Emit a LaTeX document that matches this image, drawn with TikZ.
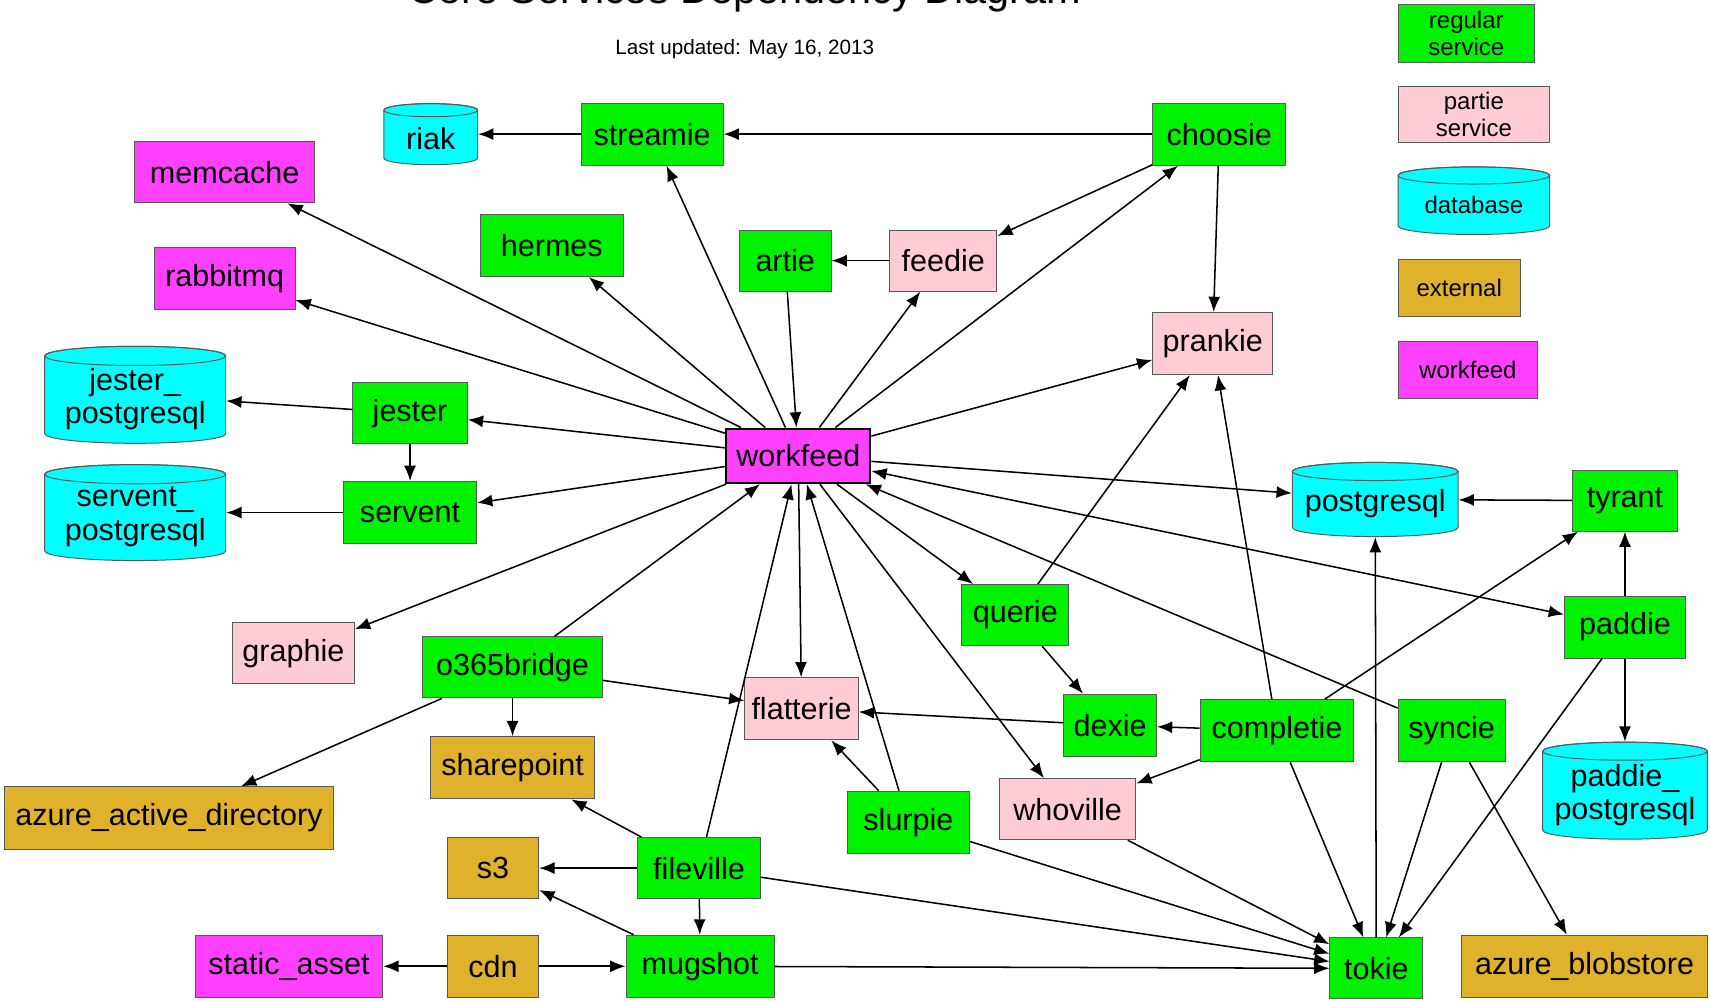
\documentclass[tikz,border=0pt]{standalone}
\usepackage{fontspec}
\setmainfont{Liberation Sans}
\usetikzlibrary{arrows.meta}
\definecolor{svcgreen}{RGB}{0,242,0}
\definecolor{partiepink}{RGB}{255,204,213}
\definecolor{dbcyan}{RGB}{0,255,255}
\definecolor{extgold}{RGB}{224,177,43}
\definecolor{wfmagenta}{RGB}{255,64,255}
% drum outline for a data store: centre x, centre y, width, height (picture units)
\newcommand\drawstore[4]{%
  \pgfmathsetmacro\stcap{3+0.035*#3}%
  \pgfmathsetmacro\strx{#3*0.25}%
  \pgfmathsetmacro\stry{\stcap*0.5}%
  \path[fill=dbcyan, draw=black!65, line width=0.45pt]
    (#1-#3/2, #2-#4/2+\stcap) -- (#1-#3/2, #2+#4/2-\stcap)
    arc[start angle=180, end angle=360, x radius=\strx pt, y radius=\stry pt]
    -- (#1+#3/2, #2-#4/2+\stcap)
    arc[start angle=0, end angle=180, x radius=\strx pt, y radius=\stry pt]
    -- cycle;
  \draw[draw=black!65, line width=0.45pt] (#1, #2-#4/2+\stcap)
    ellipse[x radius=\strx pt, y radius=\stry pt];
}
\begin{document}
\begin{tikzpicture}[x=0.5pt,y=-0.5pt,
  box/.style={draw=black!65, line width=0.45pt, inner sep=0pt, align=center,
              font=\fontsize{14}{15.5}\selectfont},
  wh/.style 2 args={minimum width=#1*0.5pt, minimum height=#2*0.5pt},
  svc/.style={box, fill=svcgreen},
  partie/.style={box, fill=partiepink},
  ext/.style={box, fill=extgold},
  wf/.style={box, fill=wfmagenta},
  dbtext/.style={inner sep=0pt, align=center, yshift=-2pt, font=\fontsize{14}{15.5}\selectfont},
  db/.style={box, draw=none, fill=none, label={[dbtext]center:#1}},
  legend/.style={font=\fontsize{11}{12.5}\selectfont},
  dep/.style={-{Latex[length=7pt,width=5.5pt]}, line width=0.7pt},
  both/.style={{Latex[length=7pt,width=5.5pt]}-{Latex[length=7pt,width=5.5pt]}, line width=0.7pt},
]
\useasboundingbox (0,0) rectangle (1568,918);

% heading
\node[anchor=base, font=\fontsize{19}{22}\selectfont] (title) at (683,3) {Core Services Dependency Diagram};
\node[font=\fontsize{9.5}{11}\selectfont] (updated) at (683,45) {Last updated: May 16, 2013};

% data store drums
\drawstore{1351.5}{184}{139}{62}
\drawstore{395}{123}{86}{56}
\drawstore{124}{362}{166}{89}
\drawstore{124}{470}{166}{88}
\drawstore{1261}{458}{152}{68}
\drawstore{1490}{725}{151}{89}

% key
\node[svc, legend, wh={125}{53}] (keysvc) at (1344.5,30.5) {regular\\service};
\node[partie, legend, wh={139}{52}] (keypartie) at (1351.5,105) {partie\\service};
\node[box, draw=none, fill=none, legend, wh={139}{62}] (keydb) at (1351.5,188) {database};
\node[ext, legend, wh={112}{52}] (keyext) at (1338,264) {external};
\node[wf, legend, wh={128}{52}] (keywf) at (1346,339) {workfeed};

% services and stores
\node[db={riak}, wh={86}{56}] (riak) at (395,123) {};
\node[svc, wh={130}{57}] (streamie) at (598,123) {streamie};
\node[svc, wh={122}{57}] (choosie) at (1118,123) {choosie};
\node[wf, wh={165}{56}] (memcache) at (206,158) {memcache};
\node[svc, wh={131}{57}] (hermes) at (506,225) {hermes};
\node[svc, wh={84}{56}] (artie) at (720,239) {artie};
\node[partie, wh={98}{56}] (feedie) at (865,239) {feedie};
\node[wf, wh={129}{57}] (rabbitmq) at (206,255) {rabbitmq};
\node[partie, wh={110}{57}] (prankie) at (1112,315) {prankie};
\node[db={jester\_\\postgresql}, wh={166}{89}] (jesterpg) at (124,362) {};
\node[svc, wh={105}{56}] (jester) at (376,379) {jester};
\node[wf, wh={132}{50}, draw=black, line width=1pt] (workfeed) at (732,418) {workfeed};
\node[db={servent\_\\postgresql}, wh={166}{88}] (serventpg) at (124,470) {};
\node[svc, wh={122}{57}] (servent) at (376,470) {servent};
\node[db={postgresql}, wh={152}{68}] (postgresql) at (1261,458) {};
\node[svc, wh={96}{56}] (tyrant) at (1490,459) {tyrant};
\node[svc, wh={98}{56}] (querie) at (931,564) {querie};
\node[svc, wh={111}{57}] (paddie) at (1490,575) {paddie};
\node[partie, wh={112}{56}] (graphie) at (269,599) {graphie};
\node[svc, wh={165}{56}] (o365bridge) at (470,612) {o365bridge};
\node[partie, wh={104}{57}] (flatterie) at (735,650) {flatterie};
\node[svc, wh={85}{57}] (dexie) at (1018,665) {dexie};
\node[svc, wh={141}{57}] (completie) at (1171,670) {completie};
\node[svc, wh={98}{57}] (syncie) at (1331,670) {syncie};
\node[ext, wh={151}{57}] (sharepoint) at (470,704) {sharepoint};
\node[db={paddie\_\\postgresql}, wh={151}{89}] (paddiepg) at (1490,725) {};
\node[ext, wh={302}{57}] (aad) at (155,750) {azure\_active\_directory};
\node[partie, wh={125}{56}] (whoville) at (979,742) {whoville};
\node[svc, wh={112}{57}] (slurpie) at (833,754) {slurpie};
\node[ext, wh={84}{56}] (s3) at (452,796) {s3};
\node[svc, wh={113}{56}] (fileville) at (641,796) {fileville};
\node[wf, wh={172}{57}] (staticasset) at (265,886) {static\_asset};
\node[ext, wh={84}{57}] (cdn) at (452,886) {cdn};
\node[svc, wh={136}{57}] (mugshot) at (642,886) {mugshot};
\node[svc, wh={85}{56}] (tokie) at (1262,888) {tokie};
\node[ext, wh={226}{57}] (blobstore) at (1453,886) {azure\_blobstore};

% dependencies
\draw[dep] (streamie) -- (riak);
\draw[dep] (choosie) -- (streamie);
\draw[dep] (choosie) -- (feedie);
\draw[dep] (choosie) -- (prankie);
\draw[dep] (feedie) -- (artie);
\draw[dep] (artie) -- (workfeed);
\draw[dep] (workfeed) -- (choosie);
\draw[dep] (workfeed) -- (streamie);
\draw[dep] (workfeed) -- (memcache);
\draw[dep] (workfeed) -- (rabbitmq);
\draw[dep] (workfeed) -- (hermes);
\draw[dep] (workfeed) -- (feedie);
\draw[dep] (workfeed) -- (prankie);
\draw[dep] (workfeed) -- (jester);
\draw[dep] (workfeed) -- (servent);
\draw[dep] (workfeed) -- (graphie);
\draw[dep] (workfeed) -- (postgresql);
\draw[dep] (workfeed) -- (querie);
\draw[dep] (workfeed) -- (flatterie);
\draw[dep] (workfeed) -- (whoville);
\draw[both] (workfeed) -- (paddie);
\draw[dep] (syncie) -- (workfeed);
\draw[dep] (o365bridge) -- (workfeed);
\draw[dep] (fileville) -- (workfeed);
\draw[dep] (slurpie) -- (workfeed);
\draw[dep] (jester) -- (jesterpg);
\draw[dep] (jester) -- (servent);
\draw[dep] (servent) -- (serventpg);
\draw[dep] (querie) -- (prankie);
\draw[dep] (querie) -- (dexie);
\draw[dep] (completie) -- (prankie);
\draw[dep] (completie) -- (dexie);
\draw[dep] (completie) -- (whoville);
\draw[dep] (completie) -- (tyrant);
\draw[dep] (completie) -- (tokie);
\draw[dep] (dexie) -- (flatterie);
\draw[dep] (tyrant) -- (postgresql);
\draw[dep] (tokie) -- (postgresql);
\draw[dep] (paddie) -- (tyrant);
\draw[dep] (paddie) -- (paddiepg);
\draw[dep] (paddie) -- (tokie);
\draw[dep] (syncie) -- (tokie);
\draw[dep] (syncie) -- (blobstore);
\draw[dep] (whoville) -- (tokie);
\draw[dep] (slurpie) -- (tokie);
\draw[dep] (slurpie) -- (flatterie);
\draw[dep] (fileville) -- (tokie);
\draw[dep] (mugshot) -- (tokie);
\draw[dep] (o365bridge) -- (flatterie);
\draw[dep] (o365bridge) -- (sharepoint);
\draw[dep] (o365bridge) -- (aad);
\draw[dep] (fileville) -- (sharepoint);
\draw[dep] (fileville) -- (s3);
\draw[dep] (fileville) -- (mugshot);
\draw[dep] (mugshot) -- (s3);
\draw[dep] (cdn) -- (staticasset);
\draw[dep] (cdn) -- (mugshot);
\end{tikzpicture}
\end{document}
